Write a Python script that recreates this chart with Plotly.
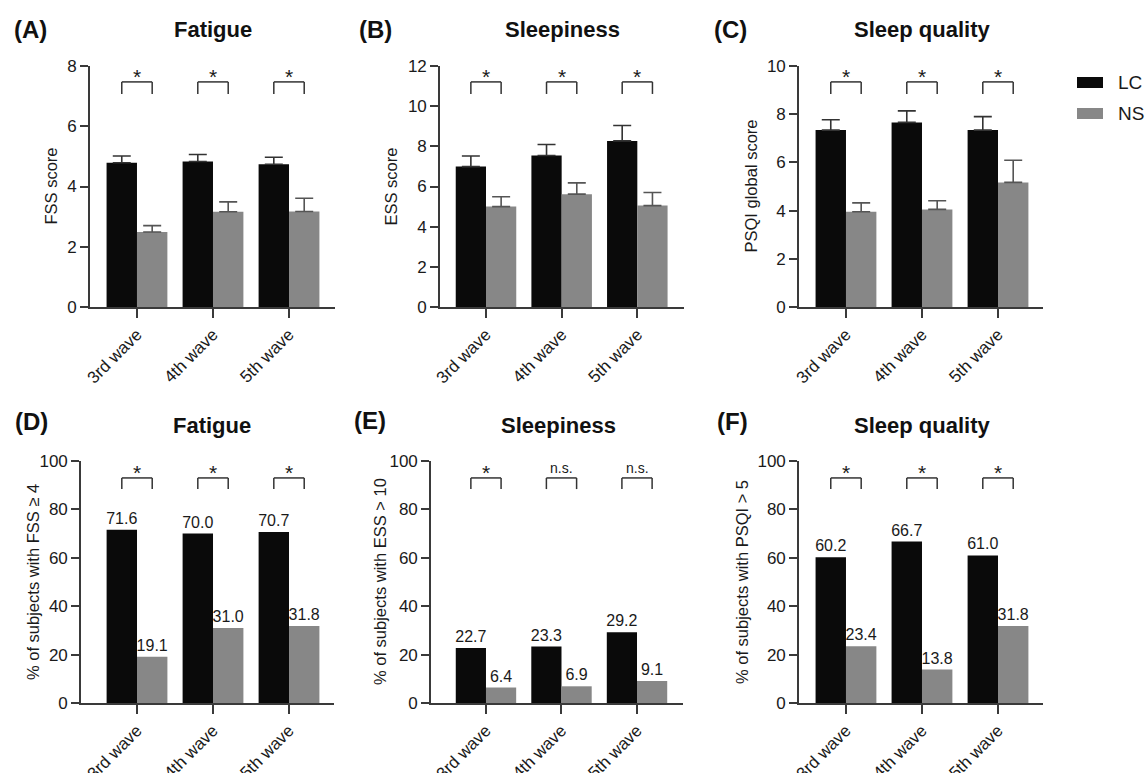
import plotly.graph_objects as go
from plotly.subplots import make_subplots

W, H = 1145, 773

waves = ["3rd wave", "4th wave", "5th wave"]
groups = ["LC", "NS"]

# Top row: mean scores with upper SEM bars
fss_lc = [4.79, 4.83, 4.74]
fss_lc_err = [0.22, 0.23, 0.23]
fss_ns = [2.49, 3.16, 3.17]
fss_ns_err = [0.21, 0.33, 0.44]

ess_lc = [6.99, 7.54, 8.27]
ess_lc_err = [0.53, 0.55, 0.77]
ess_ns = [5.00, 5.62, 5.05]
ess_ns_err = [0.49, 0.56, 0.65]

psqi_lc = [7.34, 7.66, 7.34]
psqi_lc_err = [0.43, 0.48, 0.56]
psqi_ns = [3.95, 4.05, 5.17]
psqi_ns_err = [0.37, 0.36, 0.92]

# Bottom row: % of subjects above cut-off
pct_fss_lc = [71.6, 70.0, 70.7]
pct_fss_ns = [19.1, 31.0, 31.8]
pct_ess_lc = [22.7, 23.3, 29.2]
pct_ess_ns = [6.4, 6.9, 9.1]
pct_psqi_lc = [60.2, 66.7, 61.0]
pct_psqi_ns = [23.4, 13.8, 31.8]

sig_fss = ["*", "*", "*"]
sig_ess = ["*", "*", "*"]
sig_psqi = ["*", "*", "*"]
sig_pct_fss = ["*", "*", "*"]
sig_pct_ess = ["*", "n.s.", "n.s."]
sig_pct_psqi = ["*", "*", "*"]

titles = ["Fatigue", "Sleepiness", "Sleep quality", "Fatigue", "Sleepiness", "Sleep quality"]
letters = ["(A)", "(B)", "(C)", "(D)", "(E)", "(F)"]
ytitles = ["FSS score", "ESS score", "PSQI global score",
           "% of subjects with FSS ≥ 4", "% of subjects with ESS > 10",
           "% of subjects with PSQI > 5"]
ymax = [8, 12, 10, 100, 100, 100]
ydtick = [2, 2, 2, 20, 20, 20]

BLACK = "#0a0a0a"
GRAY = "#878787"
AXC = "#3a3a3a"
TXT = "#1a1a1a"
FONT = "Liberation Sans, Arial, sans-serif"

# layout geometry (pixels)
xdom_px = [(90, 335), (440, 684), (799, 1043), (81, 334), (431, 683), (799, 1043)]
xrng = [(-0.618, 2.605), (-0.608, 2.617), (-0.618, 2.592),
        (-0.737, 2.592), (-0.728, 2.609), (-0.618, 2.592)]
ydom_px = [(66, 307)] * 3 + [(461, 703)] * 3
title_px = [(213, 30), (562, 30), (922, 30), (212, 425), (558, 425), (922, 425)]
letter_px = [(12, 30), (357, 30), (712, 30), (13, 422), (352, 420), (715, 422)]
ytitle_x = [50, 390, 750, 33, 380, 742]

fig = make_subplots(rows=2, cols=3)

panels = [
    (fss_lc, fss_ns, fss_lc_err, fss_ns_err, sig_fss),
    (ess_lc, ess_ns, ess_lc_err, ess_ns_err, sig_ess),
    (psqi_lc, psqi_ns, psqi_lc_err, psqi_ns_err, sig_psqi),
    (pct_fss_lc, pct_fss_ns, None, None, sig_pct_fss),
    (pct_ess_lc, pct_ess_ns, None, None, sig_pct_ess),
    (pct_psqi_lc, pct_psqi_ns, None, None, sig_pct_psqi),
]

shapes = []
annotations = []

for i, (lc, ns, lce, nse, sig) in enumerate(panels):
    r, c = i // 3 + 1, i % 3 + 1
    for vals, err, name, col, ecol in [(lc, lce, "LC", BLACK, "#333333"),
                                        (ns, nse, "NS", GRAY, "#555555")]:
        kw = {}
        if err is not None:
            kw["error_y"] = dict(type="data", symmetric=False, array=err,
                                 arrayminus=[0] * len(err), color=ecol,
                                 thickness=1.6, width=9)
        else:
            kw["text"] = [f"{v:.1f}" for v in vals]
            kw["textposition"] = "outside"
            kw["textfont"] = dict(size=16, color=TXT, family=FONT)
            kw["constraintext"] = "none"
            kw["cliponaxis"] = False
        fig.add_trace(go.Bar(x=list(range(len(waves))), y=vals, name=name,
                             marker=dict(color=col, line=dict(width=0)),
                             showlegend=False, **kw), row=r, col=c)

    ax = "" if i == 0 else str(i + 1)
    x0, x1 = xdom_px[i]
    ytop, ybot = ydom_px[i]
    fig.update_layout(**{
        f"xaxis{ax}": dict(domain=[x0 / W, x1 / W], range=list(xrng[i]),
                           tickvals=list(range(len(waves))), ticktext=waves,
                           tickangle=-45, showline=True, linecolor=AXC, linewidth=1.6,
                           ticks="outside", ticklen=9, tickwidth=1.6, tickcolor=AXC,
                           showgrid=False, zeroline=False, automargin=False,
                           tickfont=dict(size=17, color=TXT, family=FONT)),
        f"yaxis{ax}": dict(domain=[1 - ybot / H, 1 - ytop / H], range=[0, ymax[i]],
                           dtick=ydtick[i], tick0=0, showline=True, linecolor=AXC,
                           linewidth=1.6, ticks="outside", ticklen=8, tickwidth=1.6,
                           tickcolor=AXC, showgrid=False, zeroline=False,
                           automargin=False,
                           tickfont=dict(size=17, color=TXT, family=FONT)),
    })

    xref = f"x{ax}"
    ydref = f"y{ax} domain"
    top_f = 0.934 if i < 3 else 0.930
    leg_f = 0.884
    for k, s in enumerate(sig):
        xl, xr = k - 0.2, k + 0.2
        line = dict(color="#333333", width=1.5)
        shapes.append(dict(type="line", xref=xref, yref=ydref, x0=xl, x1=xr,
                           y0=top_f, y1=top_f, line=line))
        shapes.append(dict(type="line", xref=xref, yref=ydref, x0=xl, x1=xl,
                           y0=top_f, y1=leg_f, line=line))
        shapes.append(dict(type="line", xref=xref, yref=ydref, x0=xr, x1=xr,
                           y0=top_f, y1=leg_f, line=line))
        if s == "*":
            annotations.append(dict(x=k, y=top_f, xref=xref, yref=ydref, text="*",
                                    showarrow=False, yanchor="bottom", yshift=-8,
                                    font=dict(size=21, color=TXT, family=FONT)))
        else:
            annotations.append(dict(x=k, y=top_f, xref=xref, yref=ydref, text=s,
                                    showarrow=False, yanchor="bottom", yshift=0,
                                    font=dict(size=14, color=TXT, family=FONT)))

    tx, ty = title_px[i]
    annotations.append(dict(x=tx / W, y=1 - ty / H, xref="paper", yref="paper",
                            text=f"<b>{titles[i]}</b>", showarrow=False,
                            xanchor="center", yanchor="middle",
                            font=dict(size=22, color="#111111", family=FONT)))
    lx, ly = letter_px[i]
    annotations.append(dict(x=lx / W, y=1 - ly / H, xref="paper", yref="paper",
                            text=f"<b>{letters[i]}</b>", showarrow=False,
                            xanchor="left", yanchor="middle",
                            font=dict(size=24, color="#111111", family=FONT)))
    annotations.append(dict(x=ytitle_x[i] / W, y=1 - (ytop + ybot) / 2 / H,
                            xref="paper", yref="paper", text=ytitles[i],
                            showarrow=False, textangle=-90, xanchor="center",
                            yanchor="middle",
                            font=dict(size=16.5, color=TXT, family=FONT)))

# legend (LC / NS) drawn as keyed boxes
for g, col, (y0, y1) in zip(groups, [BLACK, GRAY], [(77, 88), (108, 119)]):
    shapes.append(dict(type="rect", xref="paper", yref="paper",
                       x0=1077 / W, x1=1103 / W, y0=1 - y1 / H, y1=1 - y0 / H,
                       fillcolor=col, line=dict(width=0)))
    annotations.append(dict(x=1116 / W, y=1 - (y0 + y1) / 2 / H, xref="paper",
                            yref="paper", text=g, showarrow=False, xanchor="left",
                            yanchor="middle",
                            font=dict(size=19, color=TXT, family=FONT)))

fig.update_layout(width=W, height=H, margin=dict(l=0, r=0, t=0, b=0),
                  paper_bgcolor="white", plot_bgcolor="white",
                  barmode="group", bargap=0.2, bargroupgap=0,
                  shapes=shapes, annotations=annotations,
                  font=dict(family=FONT, color=TXT))

fig.write_html("out.html", config={"displayModeBar": False},
               post_script="document.body.style.margin='0';"
                           "document.body.style.overflow='hidden';")
